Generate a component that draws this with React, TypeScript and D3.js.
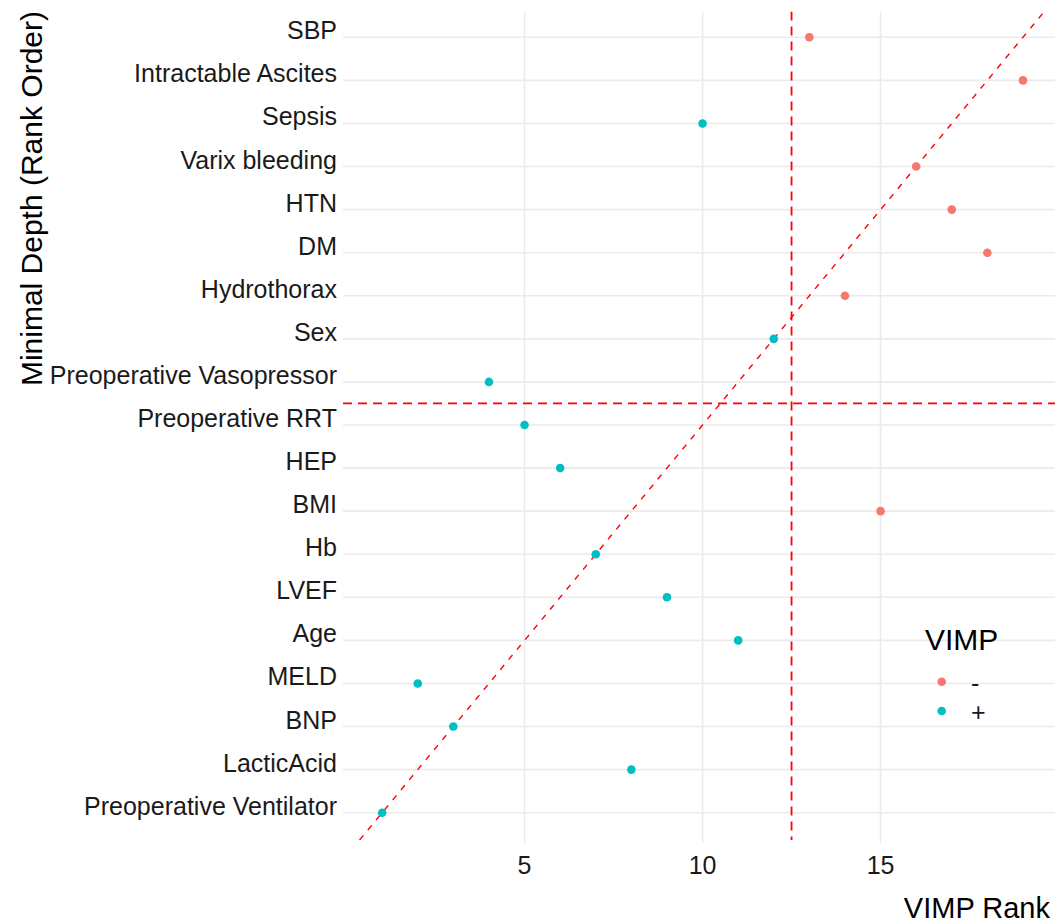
import React from "react";
import * as d3 from "d3";

// Variables in minimal-depth rank order (1 = smallest depth, bottom of the chart)
const variables = [
  "Preoperative Ventilator",
  "LacticAcid",
  "BNP",
  "MELD",
  "Age",
  "LVEF",
  "Hb",
  "BMI",
  "HEP",
  "Preoperative RRT",
  "Preoperative Vasopressor",
  "Sex",
  "Hydrothorax",
  "DM",
  "HTN",
  "Varix bleeding",
  "Sepsis",
  "Intractable Ascites",
  "SBP",
];
const depthRank = [1, 2, 3, 4, 5, 6, 7, 8, 9, 10, 11, 12, 13, 14, 15, 16, 17, 18, 19];
const vimpRank = [1, 8, 3, 2, 11, 9, 7, 15, 6, 5, 4, 12, 14, 18, 17, 16, 10, 19, 13];
const vimpSign = ["+", "+", "+", "+", "+", "+", "+", "-", "+", "+", "+", "+", "-", "-", "-", "-", "+", "-", "-"];

const xTicks = [5, 10, 15];
const legendLevels = ["-", "+"];
const vimpCutoff = 12.5;
const depthCutoff = 10.5;

const W = 1061;
const H = 924;
const panel = { left: 343, right: 1055, top: 11.5, bottom: 840 };

const FONT = "'Liberation Sans', Arial, Helvetica, sans-serif";

export default function App() {
  const x = d3.scaleLinear().domain([-0.1, 19.9]).range([panel.left, panel.right]);
  const y = d3.scaleLinear().domain([1, 19]).range([812.7, 37.3]);
  const color = d3.scaleOrdinal<string, string>().domain(legendLevels).range(["#F8766D", "#00BFC4"]);

  const points = variables.map((v, i) => ({
    name: v,
    depth: depthRank[i],
    vimp: vimpRank[i],
    sign: vimpSign[i],
  }));

  const diag = d3.line<number>().x((d) => x(d)).y((d) => y(d));

  return (
    <svg
      width={W}
      height={H}
      style={{ position: "absolute", left: 0, top: 0, display: "block", background: "#fff" }}
      fontFamily={FONT}
    >
      <defs>
        <clipPath id="panel-clip">
          <rect
            x={panel.left}
            y={panel.top}
            width={panel.right - panel.left}
            height={panel.bottom - panel.top}
          />
        </clipPath>
      </defs>

      {/* major grid */}
      <g stroke="#EBEBEB" strokeWidth={1.6}>
        {points.map((p) => (
          <line key={"h" + p.name} x1={panel.left} x2={panel.right} y1={y(p.depth)} y2={y(p.depth)} />
        ))}
        {xTicks.map((t) => (
          <line key={"v" + t} x1={x(t)} x2={x(t)} y1={panel.top} y2={panel.bottom + 3} />
        ))}
      </g>

      {/* reference lines */}
      <g clipPath="url(#panel-clip)" fill="none" stroke="#FF0000">
        <path d={diag([-0.1, 19.9]) || ""} strokeWidth={1.4} strokeDasharray="6,7" />
        <line
          x1={panel.left}
          x2={panel.right}
          y1={y(depthCutoff)}
          y2={y(depthCutoff)}
          strokeWidth={1.8}
          strokeDasharray="9,6"
        />
        <line
          x1={x(vimpCutoff)}
          x2={x(vimpCutoff)}
          y1={panel.top}
          y2={panel.bottom}
          strokeWidth={1.8}
          strokeDasharray="9,6"
        />
      </g>

      {/* points */}
      <g>
        {points.map((p) => (
          <circle key={"p" + p.name} cx={x(p.vimp)} cy={y(p.depth)} r={4.3} fill={color(p.sign)} />
        ))}
      </g>

      {/* y axis labels */}
      <g fontSize={25} fill="#1a1a1a" textAnchor="end">
        {points.map((p) => (
          <text key={"l" + p.name} x={337} y={y(p.depth) + 2}>
            {p.name}
          </text>
        ))}
      </g>

      {/* x axis labels */}
      <g fontSize={25} fill="#1a1a1a" textAnchor="middle">
        {xTicks.map((t) => (
          <text key={"t" + t} x={x(t)} y={874}>
            {t}
          </text>
        ))}
      </g>

      {/* axis titles */}
      <text x={1050} y={918} fontSize={29} textAnchor="end" fill="#000">
        VIMP Rank
      </text>
      <text transform="translate(42,11) rotate(-90)" fontSize={30} textAnchor="end" fill="#000">
        Minimal Depth (Rank Order)
      </text>

      {/* legend */}
      <g>
        <text x={925} y={650} fontSize={30} fill="#000">
          VIMP
        </text>
        {legendLevels.map((lv, i) => {
          const cy = 681.7 + i * 29.3;
          return (
            <g key={"lg" + lv}>
              <circle cx={941.7} cy={cy} r={4.3} fill={color(lv)} />
              <text x={971} y={cy + 10} fontSize={25} fill="#1a1a1a">
                {lv}
              </text>
            </g>
          );
        })}
      </g>
    </svg>
  );
}
